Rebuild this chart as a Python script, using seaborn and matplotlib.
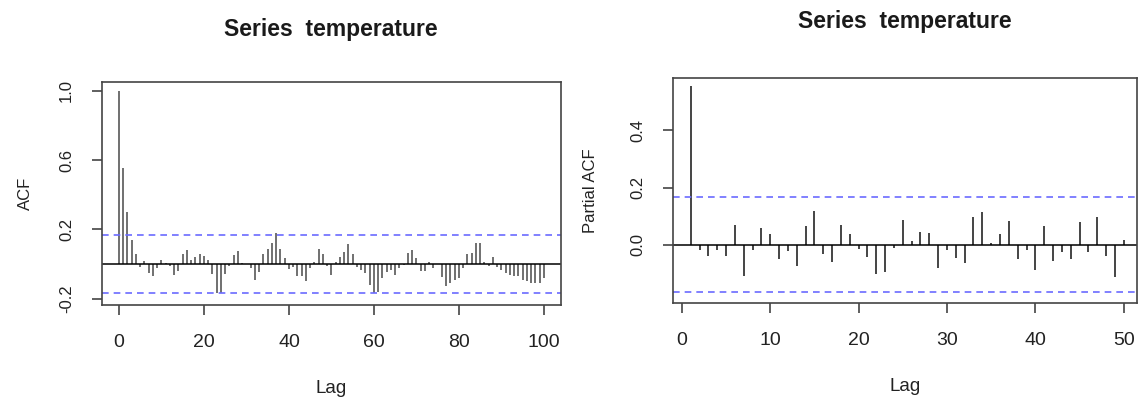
import numpy as np
import pandas as pd
import seaborn as sns
import matplotlib.pyplot as plt

# ACF values, lags 0..100
acf_vals = [
    1.0, 0.552, 0.30, 0.138, 0.056, -0.015, 0.015, -0.05, -0.067, -0.025,
    0.023, 0.003, -0.01, -0.063, -0.04, 0.06, 0.08, 0.023, 0.042, 0.06,
    0.046, 0.023, -0.06, -0.17, -0.17, -0.06, -0.01, 0.05, 0.075, 0.005,
    0.0, -0.025, -0.09, -0.045, 0.057, 0.085, 0.123, 0.177, 0.088, 0.033,
    -0.03, -0.02, -0.07, -0.07, -0.1, -0.025, 0.01, 0.085, 0.06, -0.01,
    -0.063, 0.013, 0.04, 0.07, 0.115, 0.06, -0.015, -0.035, -0.055, -0.12,
    -0.17, -0.16, -0.08, -0.045, -0.035, -0.063, -0.025, -0.005, 0.065, 0.08,
    0.033, -0.04, -0.04, 0.013, -0.025, 0.0, -0.073, -0.13, -0.11, -0.09,
    -0.083, -0.025, 0.058, 0.062, 0.123, 0.123, 0.013, -0.01, 0.042, -0.015,
    -0.035, -0.055, -0.063, -0.07, -0.07, -0.09, -0.1, -0.108, -0.108, -0.108,
    -0.083,
]
acf_lags = list(range(0, 101))

# partial ACF values, lags 1..50
pacf_vals = [
    0.556, -0.017, -0.038, -0.017, -0.038, 0.068, -0.108, -0.017, 0.058, 0.037,
    -0.05, -0.023, -0.076, 0.064, 0.119, -0.031, -0.062, 0.068, 0.037, -0.015,
    -0.043, -0.103, -0.095, -0.012, 0.087, 0.012, 0.043, 0.041, -0.082, -0.02,
    -0.047, -0.064, 0.097, 0.114, 0.005, 0.037, 0.082, -0.05, -0.02, -0.09,
    0.066, -0.056, -0.026, -0.05, 0.079, -0.026, 0.097, -0.038, -0.113, 0.017,
]
pacf_lags = list(range(1, 51))

ci = 0.167

sns.set_theme(style="ticks")
plt.rcParams['font.family'] = ['Liberation Sans', 'DejaVu Sans']

acf_df = pd.DataFrame({"lag": acf_lags, "value": acf_vals})
pacf_df = pd.DataFrame({"lag": pacf_lags, "value": pacf_vals})

fig = plt.figure(figsize=(11.38, 3.98), dpi=100)
ax1 = fig.add_axes([0.0896, 0.2337, 0.4033, 0.560])
ax2 = fig.add_axes([0.5914, 0.2387, 0.4077, 0.565])


def style_axes(ax, df, xlim, ylim, xticks, yticks, ylabel, color, ylabelpad):
    ax.vlines(df["lag"], 0, df["value"], color=color, linewidth=1.4)
    ax.axhline(0, color="black", linewidth=1.1)
    ax.axhline(ci, color="#6b6bff", linestyle=(0, (4, 3)), linewidth=1.2)
    ax.axhline(-ci, color="#6b6bff", linestyle=(0, (4, 3)), linewidth=1.2)
    ax.set_xlim(*xlim)
    ax.set_ylim(*ylim)
    ax.set_xticks(xticks)
    ax.set_yticks(yticks)
    ax.set_yticklabels([f"{t:.1f}" for t in yticks], rotation=90, va="center")
    ax.tick_params(axis="both", direction="out", length=7, width=1.2,
                   color="#444444", labelcolor="#222222",
                   bottom=True, left=True)
    ax.tick_params(axis="x", labelsize=14, pad=14)
    ax.tick_params(axis="y", labelsize=12, pad=13)
    for s in ax.spines.values():
        s.set_visible(True)
        s.set_color("#444444")
        s.set_linewidth(1.2)
    ax.set_xlabel("Lag", fontsize=13.5, labelpad=21, color="#222222")
    ax.set_ylabel(ylabel, fontsize=12, labelpad=ylabelpad, color="#222222")


style_axes(ax1, acf_df, (-4, 104), (-0.237, 1.05), [0, 20, 40, 60, 80, 100],
           [-0.2, 0.2, 0.6, 1.0], "ACF", "#707070", 19)
style_axes(ax2, pacf_df, (-1.0, 51.5), (-0.204, 0.583), [0, 10, 20, 30, 40, 50],
           [0.0, 0.2, 0.4], "Partial ACF", "#444444", 23)

fig.text(0.291, 0.927, "Series  temperature", ha="center", va="center",
         fontsize=16.5, fontweight="bold", color="#1a1a1a")
fig.text(0.795, 0.945, "Series  temperature", ha="center", va="center",
         fontsize=16.5, fontweight="bold", color="#1a1a1a")

fig.savefig("out.png", dpi=100, facecolor="white")
